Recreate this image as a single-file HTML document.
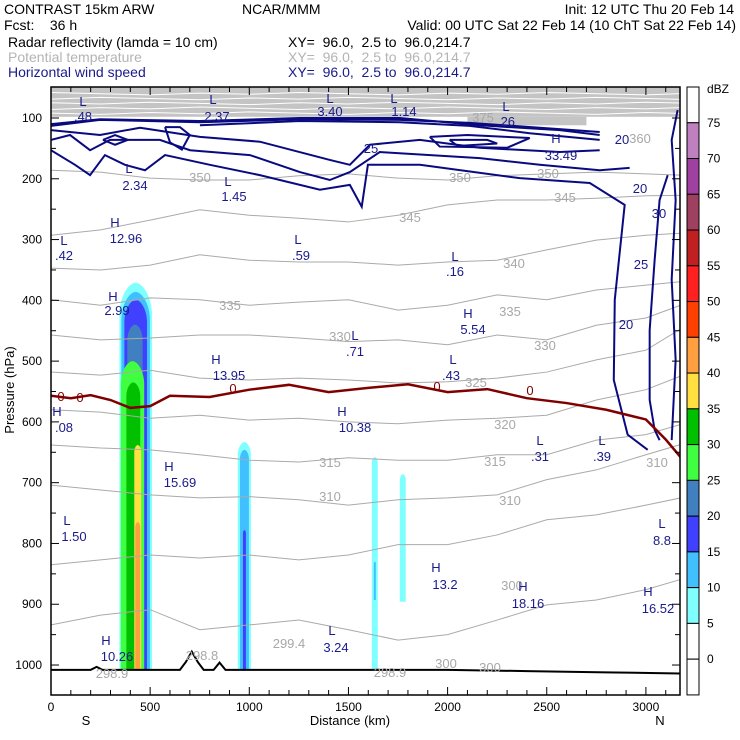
<!DOCTYPE html>
<html><head><meta charset="utf-8"><style>
html,body{margin:0;padding:0;background:#fff;}
svg{display:block;font-family:"Liberation Sans",sans-serif;}
.hdr{font-size:14px;}
text{white-space:pre;}
</style></head><body>
<svg id="chart" width="740" height="740" viewBox="0 0 740 740">
  <g class="hdr">
    <text x="4" y="14">CONTRAST 15km ARW</text>
    <text x="242" y="14">NCAR/MMM</text>
    <text x="734" y="14" text-anchor="end">Init: 12 UTC Thu 20 Feb 14</text>
    <text x="4" y="30">Fcst:    36 h</text>
    <text x="736" y="30" text-anchor="end">Valid: 00 UTC Sat 22 Feb 14 (10 ChT Sat 22 Feb 14)</text>
    <text x="8" y="47">Radar reflectivity (lamda = 10 cm)</text>
    <text x="288" y="47">XY=  96.0,  2.5 to  96.0,214.7</text>
    <text x="8" y="62" fill="#b4b4b4">Potential temperature</text>
    <text x="288" y="62" fill="#b4b4b4">XY=  96.0,  2.5 to  96.0,214.7</text>
    <text x="8" y="77" fill="#1a1a8c">Horizontal wind speed</text>
    <text x="288" y="77" fill="#1a1a8c">XY=  96.0,  2.5 to  96.0,214.7</text>
  </g>
  <defs><clipPath id="plotclip"><rect x="51" y="87" width="629" height="608"/></clipPath></defs>
  <g id="plot" clip-path="url(#plotclip)"></g>
  <rect x="51" y="87" width="629" height="608" fill="none" stroke="#000" stroke-width="1.5"/>
  <g id="axes"></g>
  <g id="cbar"></g>
  <text x="14" y="390" transform="rotate(-90 14 390)" text-anchor="middle" font-size="13">Pressure (hPa)</text>
  <text x="350" y="725" text-anchor="middle" font-size="13">Distance (km)</text>
  <text x="86" y="725" text-anchor="middle" font-size="13">S</text>
  <text x="660" y="725" text-anchor="middle" font-size="13">N</text>
<script>
// ---- data ----
const thetaKm = [0,250,500,750,1000,1250,1500,1750,2000,2250,2500,2750,3000,3250];
const thetaLevels = [350,345,340,335,330,325,320,315,310,305,300];
const theta350 = [186,189,199,202,202,195,192,199,202,195,192,189,192,195];
const theta345 = [293,284,268,251,260,265,271,260,243,235,235,232,228,227];
const theta340 = [347,350,342,325,334,337,337,342,337,334,317,301,293,288];
const theta335 = [399,408,396,399,408,403,399,416,408,391,399,383,375,367];
const theta330 = [457,465,462,457,457,462,468,465,473,457,465,441,429,399];
const theta325 = [518,523,515,528,531,528,531,536,534,528,518,498,482,432];
const theta320 = [580,584,594,589,597,594,600,603,597,594,589,564,547,515];
const theta315 = [638,643,646,654,663,666,659,663,663,654,654,630,621,597];
const theta310 = [704,712,720,725,723,728,737,728,725,720,695,679,654,630];
const theta305 = [835,827,819,824,819,827,819,802,802,786,761,753,737,720];
const theta300 = [934,918,909,942,934,926,942,959,950,926,901,893,876,852];
const thetaSeries = [theta350,theta345,theta340,theta335,theta330,theta325,theta320,theta315,theta310,theta305,theta300];

const freezeKm = [0,100,200,300,400,500,600,800,1000,1200,1400,1600,1800,2000,2200,2400,2600,2800,3000,3100,3175];
const freezeP  = [557,561,556,564,577,574,557,559,547,539,551,544,538,551,546,561,569,580,596,629,658];

const terrainKm = [0,200,230,260,650,680,710,740,770,820,850,880,2000,2400,2800,3175];
const terrainP  = [1008,1008,1003,1008,1008,995,978,995,1008,1008,996,1008,1008,1010,1012,1014];

const dbzLevels = [5,10,15,20,25,30,35,40,45,50,55,60,65,70,75];
const dbzColors = ["#80ffff","#40c0ff","#4040ff","#4080c0","#40ff40","#00c000","#ffe040","#ffa040","#ff4000","#ff2020","#c02020","#a04060","#a040a0","#c080c0"];
// reflectivity shapes: left km, right km, top hPa, bottom hPa, dBZ class
const reflKmL = [345,355,370,385,352,380,420,425, 942,953,968, 1618,1628, 1759];
const reflKmR = [509,499,484,462,470,450,455,450, 1008,998,983, 1648,1638, 1789];
const reflTop = [371,386,399,440,500,535,638,765, 633,646,778, 658,830, 686];
const reflBot = [1008,1008,1008,1008,1008,1008,1008,1008, 1008,1008,1008, 1008,893, 896];
const reflDbz = [5,10,15,20,25,30,35,40, 5,10,15, 5,10, 5];

// wind speed contours [km, hPa]
const windW1 = [[0,153],[121,177],[197,194],[272,161],[373,177],[474,186],[575,161],[801,177],[1053,194],[1356,218],[1507,210],[1567,246],[1598,177],[1860,177],[2364,199],[2717,207],[2893,243],[2843,399],[2838,531],[2908,621],[3009,646]];
const windW2 = [[0,136],[96,128],[197,153],[297,136],[549,136],[701,153],[1003,161],[1255,189],[1406,202],[1507,189],[1658,156],[2162,166],[2465,177],[2767,186],[2918,182]];
const windW3 = [[0,120],[247,128],[449,116],[751,131],[1053,139],[1406,169],[1507,177],[1608,144],[1860,136],[2162,149],[2566,156],[2767,153]];
const windJ1 = [[0,113],[247,103],[751,107],[1255,102],[1759,103],[2112,108],[2465,116],[2767,123]];
const windJ2 = [[0,110],[247,102],[751,105],[1255,100],[1759,100],[2162,112],[2566,120],[2767,128]];
const windJ3 = [[751,112],[1255,105],[1759,107],[2112,113],[2414,125],[2767,136]];
const windL1 = [[262,136],[323,128],[388,136],[323,144],[262,136]];
const windL2 = [[575,115],[650,115],[700,128],[660,152],[600,140],[575,115]];
const windL3 = [[1910,131],[2100,128],[2414,133],[2300,149],[1960,147],[1910,131]];
const windL4 = [[2010,136],[2200,136],[2250,142],[2050,146],[2010,136]];
const windR1 = [[3110,194],[3069,235],[3044,334],[3019,449],[3019,564],[3044,613],[3069,630]];
const windR2 = [[3160,87],[3130,136],[3150,235],[3130,366],[3150,498],[3130,630]];
const windSeries = [windW1,windW2,windW3,windJ1,windJ2,windJ3,windL1,windL2,windL3,windL4,windR1,windR2];

const xTicks = [0,500,1000,1500,2000,2500,3000];
const yTicks = [100,200,300,400,500,600,700,800,900,1000];

// ---- axis functions ----
const X = km => 51 + km*0.1983;
const Y = p => 118 + (p-100)*0.6078;
const NS = "http://www.w3.org/2000/svg";
const plot = document.getElementById('plot');
const axes = document.getElementById('axes');
const cbar = document.getElementById('cbar');
function mk(tag, attrs, parent){ const e=document.createElementNS(NS,tag); for(const k in attrs) e.setAttribute(k,attrs[k]); parent.appendChild(e); return e; }

// top dense gray theta band
let band = mk('rect',{x:51,y:87,width:629,height:Y(98)-87,fill:"#c4c4c4"},plot);


let band2 = mk('rect',{x:X(2100),y:Y(98),width:X(2700)-X(2100),height:Y(112)-Y(98),fill:"#c4c4c4"},plot);


[60,68,76,84,92].forEach((p,i)=>{
  const l = mk('polyline',{points:thetaKm.map((k,j)=>X(k)+","+(Y(p+((j*7+i*3)%5)-2))).join(' '),fill:"none",stroke:"#fff","stroke-width":1},plot);
  
  
});

// reflectivity
reflKmL.forEach((kl,i)=>{
  const xl=X(kl), xr=X(reflKmR[i]), yt=Y(reflTop[i]), yb=Y(reflBot[i]);
  const w=xr-xl, r=Math.min(w*1.0,(yb-yt)/3);
  const col = dbzColors[dbzLevels.indexOf(reflDbz[i])];
  const d = `M${xl},${yb} L${xl},${yt+r} C${xl},${yt+r*0.4} ${xl+w*0.3},${yt} ${(xl+xr)/2},${yt} C${xr-w*0.3},${yt} ${xr},${yt+r*0.4} ${xr},${yt+r} L${xr},${yb} Z`;
  const e = mk('path',{d:d,fill:col},plot);
  
  
});

// theta contours
thetaSeries.forEach((s,i)=>{
  const e = mk('polyline',{points:s.map((p,j)=>X(thetaKm[j])+","+Y(p)).join(' '),fill:"none",stroke:"#aaaaaa","stroke-width":1},plot);
  
  
});

// wind contours
windSeries.forEach(s=>{
  const e = mk('polyline',{points:s.map(q=>X(q[0])+","+Y(q[1])).join(' '),fill:"none",stroke:"#0a0a80","stroke-width":2},plot);
  
  
});

// freezing level
const fz = mk('polyline',{points:freezeKm.map((k,i)=>X(k)+","+Y(freezeP[i])).join(' '),fill:"none",stroke:"#800000","stroke-width":2.5},plot);



// terrain
const tr = mk('polyline',{points:terrainKm.map((k,i)=>X(k)+","+Y(terrainP[i])).join(' '),fill:"none",stroke:"#000","stroke-width":2},plot);



// text labels (theta, wind, H/L)
const grayLabels=[["350",200,182],["350",460,182],["350",548,178],["345",410,222],["345",565,202],["340",514,268],["335",230,310],["335",510,316],["330",340,341],["330",545,350],["325",476,387],["320",505,429],["315",495,466],["315",330,467],["310",330,501],["310",510,505],["310",657,467],["300",512,590],["300",446,668],["300",490,672],["299.4",289,648],["298.8",202,660],["298.9",390,677],["298.9",112,678],["375",483,122],["360",640,143],["0",61,401],["0",80,402],["0",233,393],["0",437,391],["0",530,395]];
grayLabels.forEach(t=>{
  const e = mk('text',{x:t[1],y:t[2],"text-anchor":"middle","font-size":13,fill:t[0]==="0"?"#800000":"#a8a8a8"},plot);
  e.textContent=t[0];
  
  
});
const blueLabels=[["L",83,106],[".48",83,121],["L",213,104],["2.37",217,121],["L",330,103],["3.40",330,116],["L",394,103],["1.14",404,116],["L",506,111],[".26",506,126],["H",556,143],["33.49",561,160],["20",622,144],["25",371,153],["L",129,173],["2.34",135,190],["L",228,186],["1.45",234,201],["H",115,227],["12.96",126,243],["L",64,245],[".42",64,260],["L",298,244],[".59",301,260],["L",455,261],[".16",455,276],["H",113,301],["2.99",117,315],["H",468,318],["5.54",473,334],["L",355,340],[".71",355,356],["H",216,364],["13.95",229,380],["L",453,364],[".43",451,380],["H",57,416],[".08",64,432],["H",342,416],["10.38",355,432],["L",540,445],[".31",540,461],["L",602,445],[".39",602,461],["H",169,471],["15.69",180,487],["L",67,525],["1.50",74,541],["L",662,528],["8.8",662,545],["H",436,572],["13.2",445,589],["H",523,591],["18.16",528,608],["H",648,596],["16.52",658,613],["H",106,645],["10.26",117,661],["L",332,635],["3.24",336,652],["20",640,193],["20",626,329],["25",641,269],["30",659,218]];
blueLabels.forEach(t=>{
  const e = mk('text',{x:t[1],y:t[2],"text-anchor":"middle","font-size":13,fill:"#1a1a8c"},plot);
  e.textContent=t[0];
  
  
});

// axes ticks
for(let k=0;k<=3100;k+=100){
  const maj = k%500===0, len = maj?8:5;
  [[695,695-len],[87,87+len]].forEach(s=>{
    const e = mk('line',{x1:X(k),x2:X(k),y1:s[0],y2:s[1],stroke:"#000","stroke-width":1},axes);
    
    
  });
}
xTicks.forEach(k=>{
  const e = mk('text',{x:X(k),y:711,"text-anchor":"middle","font-size":12},axes);
  e.textContent=k;
  
  
});
for(let p=100;p<=1000;p+=50){
  const maj = p%100===0, len = maj?8:5;
  [[51,51+len],[680,680-len]].forEach(s=>{
    const e = mk('line',{x1:s[0],x2:s[1],y1:Y(p),y2:Y(p),stroke:"#000","stroke-width":1},axes);
    
    
  });
}
yTicks.forEach(p=>{
  const e = mk('text',{x:42,y:Y(p)+4,"text-anchor":"end","font-size":12},axes);
  e.textContent=p;
  
  
});

// colorbar
const cbTop=87, cbH=35.76;
const cbFills = ["#ffffff"].concat(dbzColors.slice().reverse()).concat(["#ffffff","#ffffff"]);
cbFills.forEach((c,i)=>{
  const e = mk('rect',{x:687,y:cbTop+i*cbH,width:12,height:cbH,fill:c,stroke:"#000","stroke-width":1},cbar);
  
  
});
const cbLabels = [75,70,65,60,55,50,45,40,35,30,25,20,15,10,5,0];
cbLabels.forEach((v,i)=>{
  const e = mk('text',{x:707,y:cbTop+(i+1)*cbH+4,"font-size":12},cbar);
  e.textContent=v;
  
  
});
const du = mk('text',{x:707,y:93,"font-size":12},cbar);
du.textContent="dBZ";


</script>
</svg>
</body></html>
